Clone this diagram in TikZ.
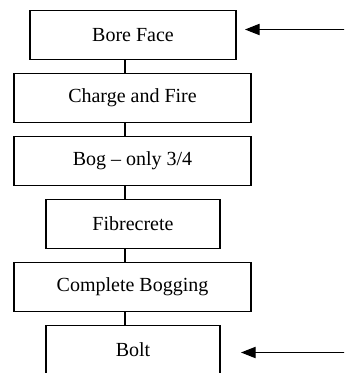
\documentclass[tikz,border=0pt]{standalone}
\usepackage{fontspec}
\setmainfont{Liberation Serif}
\usetikzlibrary{arrows.meta}
\tikzset{
	stage/.style={draw, line width=0.9pt, fill=white, minimum height=37.3pt, inner sep=0pt, font=\fontsize{15}{18}\selectfont},
	wide/.style={stage, minimum width=177.75pt},
	narrow/.style={stage, minimum width=130.5pt},
	link/.style={line width=0.8pt},
	pointer/.style={line width=0.8pt, -{Triangle[length=11pt,width=8.5pt]}}
}
\begin{document}
\begin{tikzpicture}[x=0.75pt,y=-0.75pt]
		\clip (0,0) rectangle (344,373);
		\coordinate (spine) at (125,0);
		\node[stage, minimum width=154.5pt] (bore) at (133,35) {Bore Face};
		\node[wide] (charge) at (132.5,98) {Charge and Fire};
		\node[wide] (bog) at (132.5,161) {Bog -- only 3/4};
		\node[narrow] (fibre) at (133,224) {Fibrecrete};
		\node[wide] (complete) at (132.5,287) {Complete Bogging};
		\node[narrow] (bolt) at (133,350) {Bolt};
		\draw[link] (bore.south -| spine) -- (charge.north -| spine);
		\draw[link] (charge.south -| spine) -- (bog.north -| spine);
		\draw[link] (bog.south -| spine) -- (fibre.north -| spine);
		\draw[link] (fibre.south -| spine) -- (complete.north -| spine);
		\draw[link] (complete.south -| spine) -- (bolt.north -| spine);
		\coordinate (inA) at (345,29.5);
		\coordinate (tipA) at (245,29.5);
		\coordinate (inB) at (345,352.5);
		\coordinate (tipB) at (241,352.5);
		\draw[pointer] (inA) -- (tipA);
		\draw[pointer] (inB) -- (tipB);
	\end{tikzpicture}
\end{document}
